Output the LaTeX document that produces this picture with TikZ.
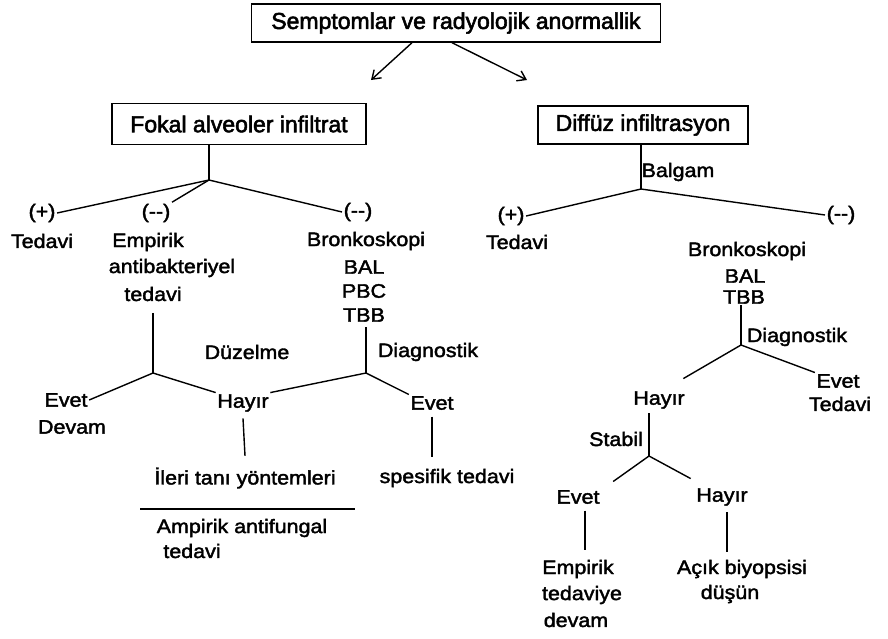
\documentclass[tikz,border=0pt]{standalone}
\usepackage{fontspec}
\usetikzlibrary{arrows.meta}
\newfontfamily\lblfont{Liberation Sans}[FakeStretch=1.1,FakeBold=2]
\newfontfamily\boxfont{Liberation Sans}[FakeStretch=1.0,FakeBold=2.4]
\begin{document}
\begin{tikzpicture}[x=1pt,y=-1pt,
  lbl/.style={inner sep=1.5pt, font=\lblfont\fontsize{19.5}{22}\selectfont},
  boxnode/.style={draw, line width=1.4pt, inner sep=0pt, font=\boxfont\fontsize{23}{26}\selectfont},
  link/.style={line width=1.4pt},
  arr/.style={line width=1.4pt, -{Straight Barb[length=8pt,width=11pt,line width=1.4pt]}}]
\useasboundingbox (0,0) rectangle (888,638);

% boxes
\node[boxnode, minimum width=409, minimum height=38] (top) at (456,23) {Semptomlar ve radyolojik anormallik};
\node[boxnode, minimum width=254, minimum height=41] (fokal) at (239,124) {Fokal alveoler infiltrat};
\node[boxnode, minimum width=210, minimum height=38] (diffuz) at (643,125) {Diffüz infiltrasyon};

\coordinate (aL) at (371,80);
\coordinate (aR) at (527,80);
\draw[arr] ([xshift=-44pt]top.south) -- (aL);
\draw[arr] ([xshift=-4pt]top.south) -- (aR);

% left branch
\coordinate (jF) at (209,180);
\node[lbl] (Lplus) at (42,213) {(+)};
\node[lbl] (Ltedavi) at (42,241) {Tedavi};
\node[lbl] (Lminus1) at (156,213) {(--)};
\node[lbl] (Lemp1) at (148,242) {Empirik};
\node[lbl] (Lemp2) at (172,268) {antibakteriyel};
\node[lbl] (Lemp3) at (153,294) {tedavi};
\node[lbl] (Lminus2) at (358,212) {(--)};
\node[lbl] (Lbr) at (366,241) {Bronkoskopi};
\node[lbl] (Lbal) at (364,267) {BAL};
\node[lbl] (Lpbc) at (364,291) {PBC};
\node[lbl] (Ltbb) at (364,315) {TBB};

\draw[link] (jF |- fokal.south) -- (jF);
\draw[link] (jF) -- (Lplus.east);
\draw[link] (jF) -- (Lminus1.north east);
\draw[link] (jF) -- (Lminus2.west);

\coordinate (jDz) at (153,373);
\coordinate (jD1) at (366,373);
\node[lbl] (Ldz) at (247,352) {Düzelme};
\node[lbl] (Ldg) at (428,352) {Diagnostik};
\node[lbl] (Levet) at (66,400) {Evet};
\node[lbl] (Ldevam) at (72,427) {Devam};
\node[lbl] (Lhayir) at (243,403) {Hayır};
\node[lbl] (Levet2) at (432,403) {Evet};
\node[lbl] (Lileri) at (245,478) {İleri tanı yöntemleri};
\node[lbl] (Lspes) at (447,478) {spesifik tedavi};
\node[lbl] (Lamp1) at (242,528) {Ampirik antifungal};
\node[lbl] (Lamp2) at (192,551) {tedavi};

\draw[link] (jDz |- Lemp3.south) ++(0,10) -- (jDz);
\draw[link] (jD1 |- Ltbb.south) ++(0,4) -- (jD1);
\draw[link] (jDz) -- (Levet.east);
\draw[link] (jDz) -- (Lhayir.north west);
\draw[link] (jD1) -- (Lhayir.north east);
\draw[link] (jD1) -- (Levet2.north west);
\draw[link] (Lhayir.south) ++(0,5) -- ([yshift=10pt]Lileri.north);
\draw[link] (Levet2.south) ++(0,5) -- ([yshift=10pt]Levet2.south |- Lspes.north);
\coordinate (hl1) at (140,509);
\coordinate (hl2) at (355,509);
\draw[link] (hl1) -- (hl2);

% right branch
\coordinate (jB) at (641,189);
\node[lbl] (Rbalgam) at (678,172) {Balgam};
\node[lbl] (Rplus) at (511,216) {(+)};
\node[lbl] (Rtedavi) at (517,242) {Tedavi};
\node[lbl] (Rminus) at (841,215) {(--)};
\node[lbl] (Rbr) at (747,251) {Bronkoskopi};
\node[lbl] (Rbal) at (745,276) {BAL};
\node[lbl] (Rtbb) at (744,297) {TBB};

\draw[link] (jB |- diffuz.south) -- (jB);
\draw[link] (jB) -- (Rplus.east);
\draw[link] (jB) -- (Rminus.west);

\coordinate (jR) at (741,345);
\node[lbl] (Rdg) at (797,337) {Diagnostik};
\node[lbl] (Rhayir) at (659,400) {Hayır};
\node[lbl] (Revet) at (838,381) {Evet};
\node[lbl] (Rtedavi2) at (840,404) {Tedavi};
\draw[link] (jR |- Rtbb.south) -- (jR);
\draw[link] (jR) -- ([xshift=-3pt,yshift=11pt]Rhayir.north east);
\draw[link] (jR) -- (Revet.north west);

\coordinate (jS) at (649,456);
\node[lbl] (Rstabil) at (616,439) {Stabil};
\node[lbl] (Revet2) at (578,497) {Evet};
\node[lbl] (Rhayir2) at (722,497) {Hayır};
\draw[link] (jS |- Rhayir.south) ++(0,3) -- (jS);
\draw[link] (jS) -- ([xshift=12pt,yshift=7pt]Revet2.north east);
\draw[link] (jS) -- ([xshift=-4pt,yshift=8pt]Rhayir2.north west);

\node[lbl] (Remp1) at (578,569) {Empirik};
\node[lbl] (Remp2) at (582,595) {tedaviye};
\node[lbl] (Remp3) at (576,620) {devam};
\node[lbl] (Racik1) at (742,569) {Açık biyopsisi};
\node[lbl] (Racik2) at (730,594) {düşün};
\draw[link] ([xshift=7pt]Revet2.south) ++(0,5) -- ([xshift=7pt,yshift=8pt]Revet2.south |- Remp1.north);
\draw[link] ([xshift=5pt]Rhayir2.south) ++(0,5) -- ([xshift=5pt,yshift=6pt]Rhayir2.south |- Racik1.north);
\end{tikzpicture}
\end{document}
